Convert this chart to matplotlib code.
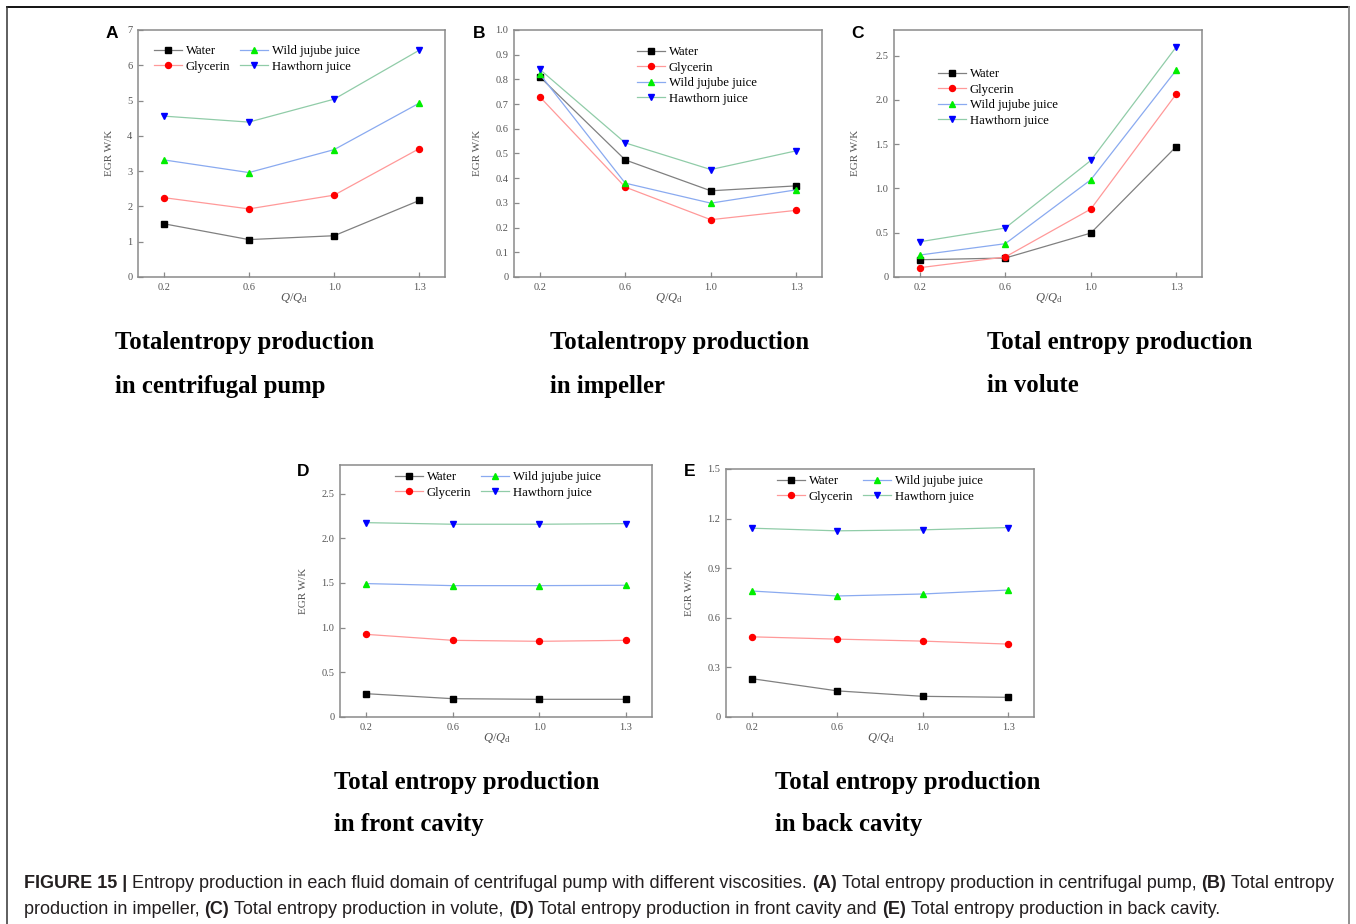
import matplotlib
matplotlib.use('Agg')
import matplotlib.pyplot as plt
from matplotlib.lines import Line2D

plt.rcParams['font.family'] = ['Liberation Serif', 'DejaVu Serif']
plt.rcParams['mathtext.fontset'] = 'custom'
plt.rcParams['mathtext.rm'] = 'Liberation Serif'
plt.rcParams['mathtext.it'] = 'Liberation Serif:italic'

# ---------------- data ----------------
x_labels = ['0.2', '0.6', '1.0', '1.3']
series_names = ['Water', 'Glycerin', 'Wild jujube juice', 'Hawthorn juice']

a_water = [1.51, 1.06, 1.17, 2.17]
a_glycerin = [2.25, 1.93, 2.32, 3.64]
a_jujube = [3.32, 2.96, 3.61, 4.93]
a_hawthorn = [4.56, 4.39, 5.04, 6.43]

b_water = [0.811, 0.474, 0.349, 0.369]
b_glycerin = [0.730, 0.364, 0.232, 0.270]
b_jujube = [0.822, 0.380, 0.299, 0.353]
b_hawthorn = [0.841, 0.543, 0.435, 0.511]

c_water = [0.195, 0.214, 0.496, 1.474]
c_glycerin = [0.105, 0.226, 0.767, 2.068]
c_jujube = [0.248, 0.376, 1.098, 2.338]
c_hawthorn = [0.398, 0.553, 1.316, 2.600]

d_water = [0.261, 0.205, 0.198, 0.198]
d_glycerin = [0.925, 0.858, 0.847, 0.858]
d_jujube = [1.493, 1.470, 1.470, 1.474]
d_hawthorn = [2.175, 2.157, 2.157, 2.164]

e_water = [0.232, 0.158, 0.125, 0.119]
e_glycerin = [0.485, 0.471, 0.459, 0.441]
e_jujube = [0.762, 0.732, 0.744, 0.768]
e_hawthorn = [1.142, 1.126, 1.132, 1.146]

title_lines = {
    'A': ['Totalentropy production', 'in centrifugal pump'],
    'B': ['Totalentropy production', 'in impeller'],
    'C': ['Total entropy production', 'in volute'],
    'D': ['Total entropy production', 'in front cavity'],
    'E': ['Total entropy production', 'in back cavity'],
}

# ---------------- styles ----------------
W, H = 1356, 924
fig = plt.figure(figsize=(W / 100, H / 100), dpi=100)

line_colors = ['#808080', '#ff9999', '#8aaaf0', '#90cca8']
marker_colors = ['#000000', '#ff0000', '#00ee00', '#0000ff']
markers = ['s', 'o', '^', 'v']
spine_color = '#8a8a8a'
tick_color = '#555555'


def frac(x, y):
    return x / W, 1 - y / H


def make_axes(l, r, t, b):
    return fig.add_axes([l / W, 1 - b / H, (r - l) / W, (b - t) / H])


panels = [
    dict(key='A', rect=(138, 445, 30, 277), data=[a_water, a_glycerin, a_jujube, a_hawthorn],
         ylim=(0, 7), yticks=[0, 1, 2, 3, 4, 5, 6, 7], fmt=lambda v: '0' if v == 0 else f'{v:g}',
         letter=(112, 33), ylab=(109, 153), xlab=(294, 298), title=(115, 340), legend=(154, 45), ncol=2),
    dict(key='B', rect=(514, 822, 30, 277), data=[b_water, b_glycerin, b_jujube, b_hawthorn],
         ylim=(0, 1.0), yticks=[0, .1, .2, .3, .4, .5, .6, .7, .8, .9, 1.0],
         fmt=lambda v: '0' if v == 0 else f'{v:.1f}',
         letter=(479, 33), ylab=(477, 153), xlab=(669, 298), title=(550, 340), legend=(637, 46), ncol=1),
    dict(key='C', rect=(894, 1202, 30, 277), data=[c_water, c_glycerin, c_jujube, c_hawthorn],
         ylim=(0, 2.79), yticks=[0, .5, 1.0, 1.5, 2.0, 2.5], fmt=lambda v: '0' if v == 0 else f'{v:.1f}',
         letter=(858, 33), ylab=(856, 153), xlab=(1049, 298), title=(987, 340), legend=(938, 68), ncol=1),
    dict(key='D', rect=(340, 652, 465, 717), data=[d_water, d_glycerin, d_jujube, d_hawthorn],
         ylim=(0, 2.82), yticks=[0, .5, 1.0, 1.5, 2.0, 2.5], fmt=lambda v: '0' if v == 0 else f'{v:.1f}',
         letter=(303, 471), ylab=(303, 591), xlab=(497, 738), title=(334, 779), legend=(395, 471), ncol=2),
    dict(key='E', rect=(726, 1034, 469, 717), data=[e_water, e_glycerin, e_jujube, e_hawthorn],
         ylim=(0, 1.5), yticks=[0, .3, .6, .9, 1.2, 1.5], fmt=lambda v: '0' if v == 0 else f'{v:.1f}',
         letter=(690, 471), ylab=(690, 593), xlab=(881, 738), title=(775, 779), legend=(777, 475), ncol=2),
]

xpos = list(range(len(x_labels)))

for p in panels:
    ax = make_axes(*p['rect'])
    handles = []
    for i, ys in enumerate(p['data']):
        h, = ax.plot(xpos, ys, color=line_colors[i], lw=0.9, marker=markers[i], ms=4.3,
                     mfc=marker_colors[i], mec=marker_colors[i], label=series_names[i], zorder=3)
        handles.append(h)
    ax.set_xlim(-0.3, 3.3)
    ax.set_ylim(*p['ylim'])
    ax.set_xticks(xpos)
    ax.set_xticklabels(x_labels)
    ax.set_yticks(p['yticks'])
    ax.set_yticklabels([p['fmt'](v) for v in p['yticks']])
    for s in ax.spines.values():
        s.set_color(spine_color)
        s.set_linewidth(1.1)
    ax.tick_params(direction='in', length=3.5, width=0.9, color=spine_color,
                   labelsize=7.5, labelcolor=tick_color, pad=4)

    lx, ly = frac(*p['legend'])
    ax.legend(handles=handles, ncol=p['ncol'], loc='upper left', bbox_to_anchor=(lx, ly),
              bbox_transform=fig.transFigure, frameon=False, fontsize=9.2, borderpad=0,
              handlelength=2.2, handletextpad=0.3, columnspacing=0.75, labelspacing=0.28,
              borderaxespad=0)

    fig.text(*frac(*p['letter']), p['key'], family=['Liberation Sans'], weight='bold',
             fontsize=12.5, ha='center', va='center', color='black')
    fig.text(*frac(*p['ylab']), 'EGR W/K', rotation=90, ha='center', va='center',
             fontsize=8, color=tick_color)
    fig.text(*frac(*p['xlab']), r'$Q/Q_{\mathrm{d}}$', ha='center', va='center',
             fontsize=9, color=tick_color)
    tx, ty = p['title']
    for k, line in enumerate(title_lines[p['key']]):
        fig.text(*frac(tx, ty + 3 + 43 * k), line, ha='left', va='center', weight='bold',
                 fontsize=17.8, color='black')

# ---------------- outer border ----------------
fig.add_artist(Line2D([7 / W, 1349 / W], [1 - 7 / H, 1 - 7 / H], transform=fig.transFigure,
                      color='black', lw=1.3))
fig.add_artist(Line2D([7 / W, 7 / W], [1 - 7 / H, 0], transform=fig.transFigure,
                      color='#333333', lw=1.1))
fig.add_artist(Line2D([1349 / W, 1349 / W], [1 - 7 / H, 0], transform=fig.transFigure,
                      color='#888888', lw=1.3))

# ---------------- caption ----------------
cap_lines = [
    [("FIGURE 15 |", 'bold'),
     (" Entropy production in each fluid domain of centrifugal pump with different viscosities. ", 'normal'),
     ("(A)", 'bold'), (" Total entropy production in centrifugal pump, ", 'normal'),
     ("(B)", 'bold'), (" Total entropy", 'normal')],
    [("production in impeller, ", 'normal'), ("(C)", 'bold'),
     (" Total entropy production in volute, ", 'normal'), ("(D)", 'bold'),
     (" Total entropy production in front cavity and ", 'normal'), ("(E)", 'bold'),
     (" Total entropy production in back cavity.", 'normal')],
]
cap_y = [884, 909]
cap_fs = 12.95
cap_color = '#231f20'
renderer = fig.canvas.get_renderer()


def text_w(s, weight):
    t = fig.text(0, 0, s, family=['Liberation Sans'], fontsize=cap_fs, weight=weight)
    w = t.get_window_extent(renderer).width
    t.remove()
    return w


for line, yy in zip(cap_lines, cap_y):
    x = 24.0
    for seg, weight in line:
        sp_w = text_w('a a', weight) - text_w('aa', weight)
        lead = len(seg) - len(seg.lstrip(' '))
        trail = len(seg) - len(seg.rstrip(' '))
        core = seg.strip(' ')
        x += lead * sp_w
        t = fig.text(x / W, 1 - yy / H, core, family=['Liberation Sans'], fontsize=cap_fs,
                     weight=weight, ha='left', va='center', color=cap_color)
        x += t.get_window_extent(renderer).width
        x += trail * sp_w

fig.savefig('out.png', dpi=100)
